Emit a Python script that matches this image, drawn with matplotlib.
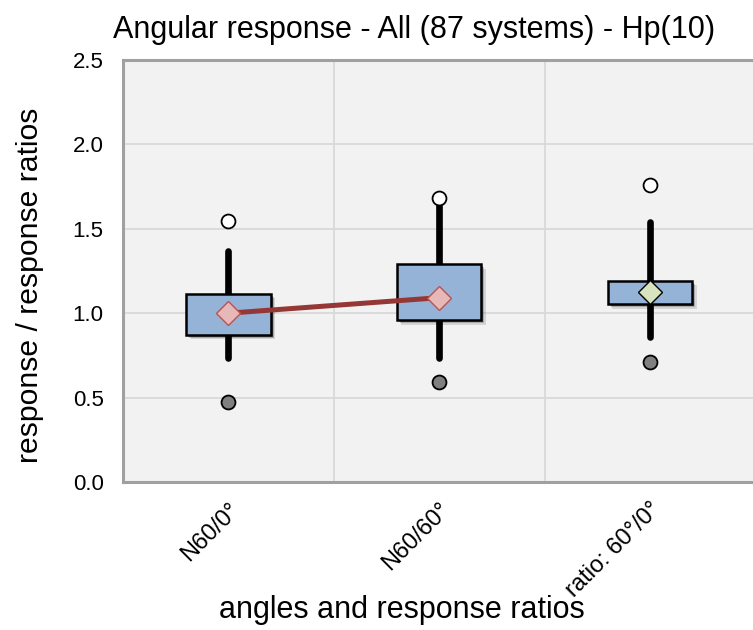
import matplotlib
matplotlib.use("Agg")
import matplotlib.pyplot as plt
from matplotlib.transforms import ScaledTranslation

plt.rcParams['font.family'] = ['Liberation Sans', 'DejaVu Sans']

# Summary statistics per category
categories = ["N60/0°", "N60/60°", "ratio: 60°/0°"]
q1 = [0.871, 0.958, 1.053]
q3 = [1.115, 1.290, 1.193]
whisker_lo = [0.733, 0.736, 0.861]
whisker_hi = [1.370, 1.650, 1.542]
means = [1.000, 1.092, 1.124]
outlier_hi = [1.546, 1.680, 1.760]
outlier_lo = [0.476, 0.592, 0.709]

fig = plt.figure(figsize=(7.53, 6.30), dpi=100)
ax = fig.add_axes([123 / 753, 1 - 482 / 630, 1 - 123 / 753 + 0.003, (482 - 60) / 630])
ax.set_facecolor('#F2F2F2')
ax.set_xlim(-0.5, 2.5)
ax.set_ylim(0, 2.5)

# grid
ax.set_yticks([0, 0.5, 1.0, 1.5, 2.0, 2.5])
ax.set_yticklabels(["0.0", "0.5", "1.0", "1.5", "2.0", "2.5"])
for yv in [0.5, 1.0, 1.5, 2.0]:
    ax.axhline(yv, color='#D9D9D9', lw=1.3, zorder=0)
for xv in [0.5, 1.5]:
    ax.axvline(xv, color='#D9D9D9', lw=1.3, zorder=0)

x = list(range(len(categories)))

# whiskers
for xi, lo, hi in zip(x, whisker_lo, whisker_hi):
    ax.plot([xi, xi], [lo, hi], color='black', lw=4.8, solid_capstyle='round', zorder=2)

# box shadows
for dx, dy, a in [(2, -2, 0.25), (3, -3, 0.2), (4.5, -4.5, 0.12)]:
    off = ax.transData + ScaledTranslation(dx / 100, dy / 100, fig.dpi_scale_trans)
    ax.bar(x, [b - a_ for a_, b in zip(q1, q3)], bottom=q1, width=0.4,
           color='black', alpha=a, lw=0, transform=off, zorder=3)

# boxes
ax.bar(x, [b - a_ for a_, b in zip(q1, q3)], bottom=q1, width=0.4,
       color='#95B3D7', edgecolor='black', lw=1.8, zorder=4)

# mean connection line
ax.plot(x[:2], means[:2], color='#953735', lw=3.6, zorder=5, solid_capstyle='butt')

# mean markers
ax.plot(x[:2], means[:2], ls='none', marker='D', ms=12, mfc='#E6B9B8',
        mec='#C0504D', mew=1.0, zorder=6)
ax.plot(x[2:], means[2:], ls='none', marker='D', ms=12, mfc='#D7E4BD',
        mec='black', mew=1.0, zorder=6)

# extreme values
ax.plot(x, outlier_hi, ls='none', marker='o', ms=10, mfc='white', mec='black',
        mew=1.3, zorder=6)
ax.plot(x, outlier_lo, ls='none', marker='o', ms=10, mfc='#808080', mec='black',
        mew=1.3, zorder=6)

# axes styling
for side in ['left', 'bottom', 'top']:
    ax.spines[side].set_color('#A0A0A0')
    ax.spines[side].set_linewidth(2.2)
ax.spines['right'].set_visible(False)
ax.tick_params(axis='both', length=0, labelsize=16)
ax.tick_params(axis='y', pad=14)
ax.set_xticks(x)
ax.set_xticklabels(categories, rotation=45, ha='right', rotation_mode='anchor',
                   fontsize=17)
ax.tick_params(axis='x', pad=12)

fig.text(414 / 753, 1 - 30 / 630, "Angular response - All (87 systems) - Hp(10)",
         ha='center', va='center', fontsize=22)
fig.text(30 / 753, 1 - 285 / 630, "response / response ratios", rotation=90,
         ha='center', va='center', fontsize=21.7)
fig.text(402 / 753, 1 - 610 / 630, "angles and response ratios",
         ha='center', va='center', fontsize=22)

fig.savefig("out.png", dpi=100)
